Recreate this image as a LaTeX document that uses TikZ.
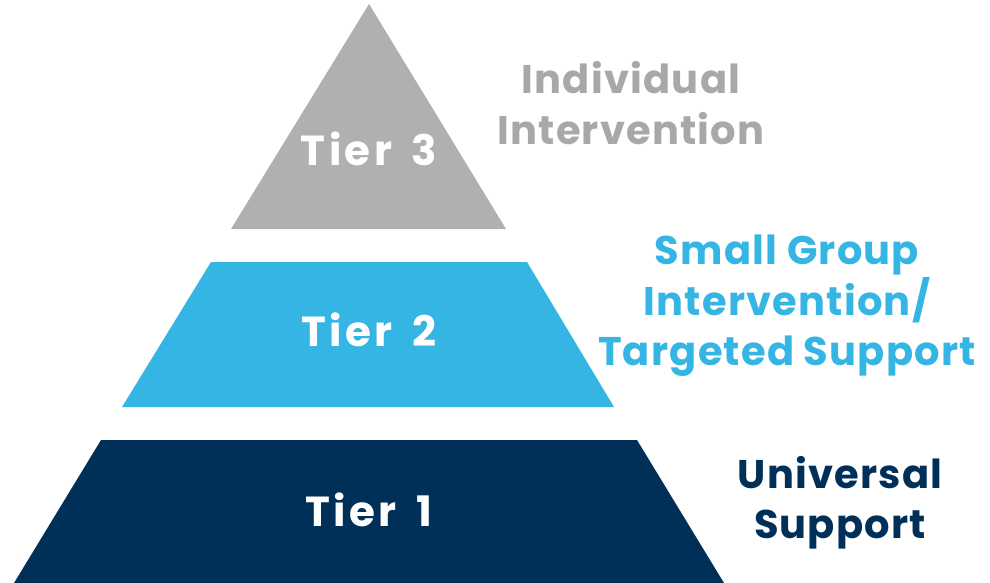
\documentclass[tikz,border=0pt]{standalone}
\usepackage{fontspec}
\setmainfont{Poppins}[UprightFont=* Bold, LetterSpace=3]
\newfontfamily\tierfont{Poppins}[UprightFont=* Bold, LetterSpace=8, WordSpace=1.6]
\definecolor{tgray}{HTML}{B0B0B0}
\definecolor{lgray}{HTML}{A8A8A8}
\definecolor{tblue}{HTML}{35B5E4}
\definecolor{tnavy}{HTML}{003058}
\begin{document}
\begin{tikzpicture}[x=1pt,y=-1pt,
  tierlbl/.style={text=white,font=\tierfont\fontsize{42}{44}\selectfont,anchor=center},
  sidelbl/.style={font=\fontsize{40}{50.5}\selectfont,align=center,anchor=center}]
\useasboundingbox (0,0) rectangle (990,583);
\fill[tgray] (369,4) -- (506,229) -- (231,229) -- cycle;
\fill[tblue] (211,262) -- (527,262) -- (614,407) -- (122,407) -- cycle;
\fill[tnavy] (101,440) -- (637,440) -- (724,583) -- (14,583) -- cycle;
\node[tierlbl] (t3) at (369,149) {Tier 3};
\node[tierlbl] (t2) at (369,330) {Tier 2};
\node[tierlbl] (t1) at (369,510) {Tier 1};
\node[sidelbl,text=lgray] (l3) at (631,103) {Individual\\Intervention};
\node[sidelbl,text=tblue] (l2) at (787,306) {Small Group\\Intervention/\\Targeted Support};
\node[sidelbl,text=tnavy] (l1) at (840,503) {Universal\\Support};
\end{tikzpicture}
\end{document}
